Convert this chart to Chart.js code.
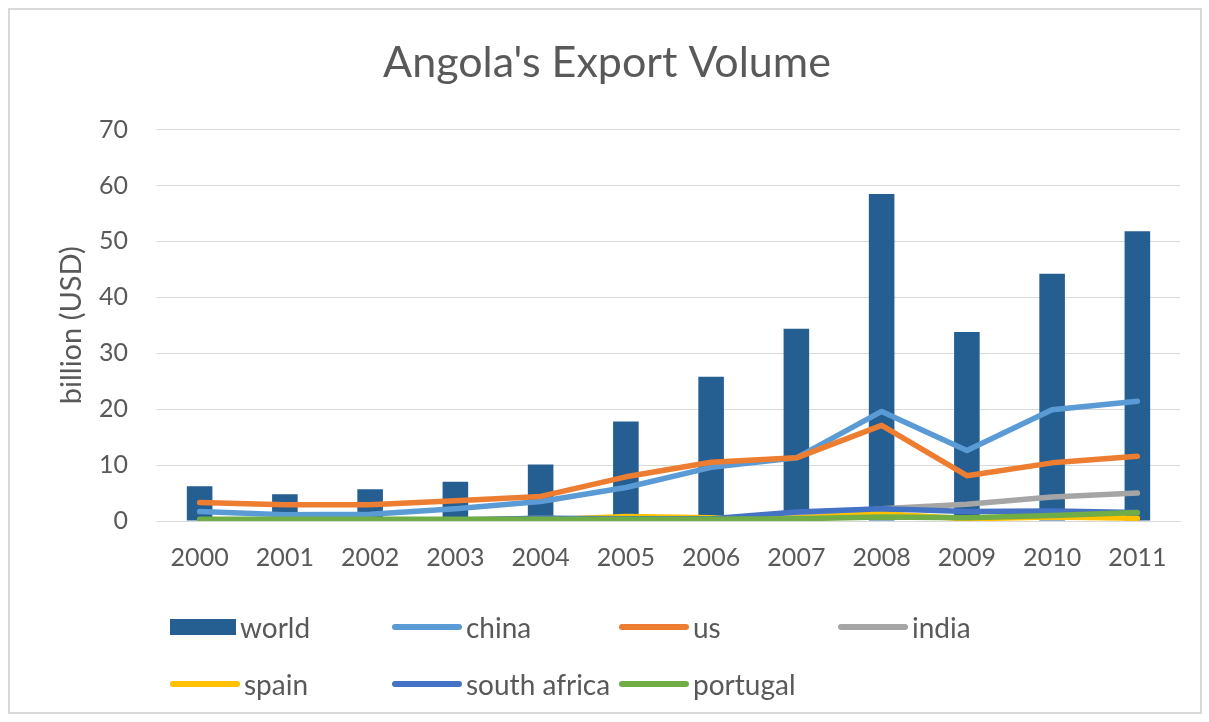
<!DOCTYPE html>
<html>
<head>
<meta charset="utf-8">
<script src="https://cdn.jsdelivr.net/npm/chart.js@4"></script>
<style>
  html, body { margin: 0; padding: 0; background: #fff; }
  #wrap { position: relative; width: 1209px; height: 722px; overflow: hidden; }
  #frame { position: absolute; left: 8px; top: 8px; width: 1190px; height: 702px; border: 2px solid #d9d9d9; box-sizing: content-box; pointer-events: none; }
  #c { position: absolute; left: 0; top: 0; }
  .lg { position: absolute; display: flex; align-items: center; font-family: Lato, "Open Sans", sans-serif; font-size: 28px; color: #595959; white-space: nowrap; height: 34px; }
  .sw { display: inline-block; margin-right: 4px; }
</style>
</head>
<body>
<div id="wrap">
  <canvas id="c" width="1209" height="722"></canvas>
  <div id="frame"></div>
  <div id="legend"></div>
</div>
<script>
const years = ["2000","2001","2002","2003","2004","2005","2006","2007","2008","2009","2010","2011"];
const world       = [6.2, 4.8, 5.7, 7.0, 10.1, 17.8, 25.8, 34.4, 58.5, 33.8, 44.2, 51.8];
const china       = [1.7, 1.1, 1.2, 2.2, 3.5, 6.0, 9.6, 11.3, 19.6, 12.6, 19.9, 21.4];
const us          = [3.3, 2.9, 2.9, 3.6, 4.4, 7.9, 10.5, 11.3, 17.1, 8.1, 10.4, 11.6];
const india       = [0.0, 0.0, 0.0, 0.1, 0.5, 0.2, 0.2, 0.8, 2.2, 3.0, 4.3, 5.0];
const spain       = [0.0, 0.0, 0.0, 0.0, 0.2, 0.8, 0.6, 0.5, 1.3, 0.4, 0.7, 0.5];
const southAfrica = [0.2, 0.2, 0.2, 0.2, 0.5, 0.4, 0.4, 1.6, 2.2, 1.7, 1.8, 1.5];
const portugal    = [0.3, 0.3, 0.3, 0.3, 0.3, 0.3, 0.3, 0.4, 0.7, 0.6, 1.0, 1.5];
const yTicks = [0, 10, 20, 30, 40, 50, 60, 70];

const FONT = 'Lato, "Open Sans", sans-serif';
const TXT = '#595959';
const C = { world:'#255E91', china:'#5B9BD5', us:'#ED7D31', india:'#A5A5A5', spain:'#FFC000', sa:'#4472C4', pt:'#70AD47' };

function line(label, data, color, order) {
  return { type:'line', label, data, borderColor:color, backgroundColor:color, borderWidth:5.5,
    pointRadius:0, pointHoverRadius:0, tension:0, fill:false, order, borderJoinStyle:'round', borderCapStyle:'round' };
}

new Chart(document.getElementById('c'), {
  data: {
    labels: years,
    datasets: [
      { type:'bar', label:'world', data: world, backgroundColor: C.world, borderWidth:0,
        barPercentage:0.3, categoryPercentage:1.0, order:10 },
      line('china', china, C.china, 6),
      line('us', us, C.us, 5),
      line('india', india, C.india, 4),
      line('spain', spain, C.spain, 3),
      line('south africa', southAfrica, C.sa, 2),
      line('portugal', portugal, C.pt, 1)
    ]
  },
  options: {
    responsive: false,
    animation: false,
    devicePixelRatio: 1,
    layout: { padding: { left: 34, right: 29, top: 0, bottom: 141 } },
    plugins: {
      legend: { display: false },
      tooltip: { enabled: false },
      title: { display: true, text: "Angola's Export Volume", color: TXT,
        font: { family: FONT, size: 43, weight: 'normal' }, padding: { top: 37, bottom: 41 } }
    },
    scales: {
      x: {
        grid: { display: false, drawTicks: false },
        border: { display: true, color: '#d9d9d9', width: 1 },
        ticks: { color: TXT, font: { family: FONT, size: 25 }, padding: 22, maxRotation: 0 },
        afterFit: s => { s.height = 60; }
      },
      y: {
        min: 0, max: 70,
        afterBuildTicks: s => { s.ticks = yTicks.map(v => ({ value: v })); },
        grid: { color: '#d9d9d9', lineWidth: 1, drawTicks: false },
        border: { display: false },
        ticks: { color: TXT, font: { family: FONT, size: 25 }, padding: 29 },
        title: { display: true, text: 'billion (USD)', color: TXT, font: { family: FONT, size: 29 }, padding: { top: 20, bottom: 0 } },
        afterFit: s => { s.width = 123; }
      }
    }
  }
});

// legend (grid layout like the reference)
const legendItems = [
  { label:'world', color:C.world, bar:true, x:170, y:610 },
  { label:'china', color:C.china, x:392, y:610 },
  { label:'us', color:C.us, x:619, y:610 },
  { label:'india', color:C.india, x:838, y:610 },
  { label:'spain', color:C.spain, x:170, y:667 },
  { label:'south africa', color:C.sa, x:392, y:667 },
  { label:'portugal', color:C.pt, x:619, y:667 }
];
const lg = document.getElementById('legend');
legendItems.forEach(it => {
  const d = document.createElement('div');
  d.className = 'lg';
  d.style.left = it.x + 'px';
  d.style.top = it.y + 'px';
  const sw = document.createElement('span');
  sw.className = 'sw';
  if (it.bar) { sw.style.width = '66px'; sw.style.height = '16px'; sw.style.background = it.color; }
  else { sw.style.width = '70px'; sw.style.height = '6px'; sw.style.borderRadius = '3px'; sw.style.background = it.color; }
  d.appendChild(sw);
  const t = document.createElement('span');
  t.textContent = it.label;
  d.appendChild(t);
  lg.appendChild(d);
});
</script>
</body>
</html>
